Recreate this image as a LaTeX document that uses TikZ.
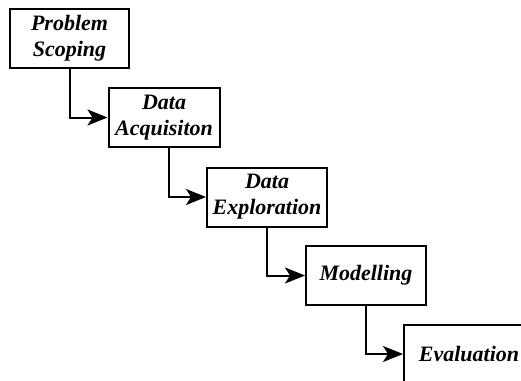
\documentclass[tikz,border=0pt]{standalone}
\usepackage{fontspec}
\setmainfont{Liberation Serif}
\usetikzlibrary{arrows.meta,positioning}

\begin{document}
\begin{tikzpicture}[x=1pt,y=1pt,node distance=79pt,on grid,
    stage/.style={draw,line width=2pt,minimum height=59pt,align=center,
      font=\fontsize{22}{26}\selectfont\bfseries\itshape,inner sep=0pt},
    flow/.style={line width=2pt,-{Stealth[length=20pt,width=16pt,inset=5pt]}}]
    \clip (0,0) rectangle (521,-380);
    \node[stage,minimum width=119pt] (s_1) at (69.5,-38.5) {Problem\\Scoping};
    \node[stage,minimum width=111pt] (s_2) [below right=79pt and 94.5pt of s_1] {Data\\Acquisiton};
    \node[stage,minimum width=120pt] (s_3) [below right=79.5pt and 103pt of s_2] {Data\\Exploration};
    \node[stage,minimum width=120pt] (s_4) [below right=78.5pt and 99pt of s_3] {Modelling};
    \node[stage,minimum width=130pt] (s_5) [below right=78.5pt and 103pt of s_4] {Evaluation};
    \draw[flow] (s_1.south) |- (s_2.west);
    \draw[flow] ([xshift=5pt]s_2.south) |- (s_3.west);
    \draw[flow] (s_3.south) |- (s_4.west);
    \draw[flow] (s_4.south) |- (s_5.west);
\end{tikzpicture}
\end{document}
